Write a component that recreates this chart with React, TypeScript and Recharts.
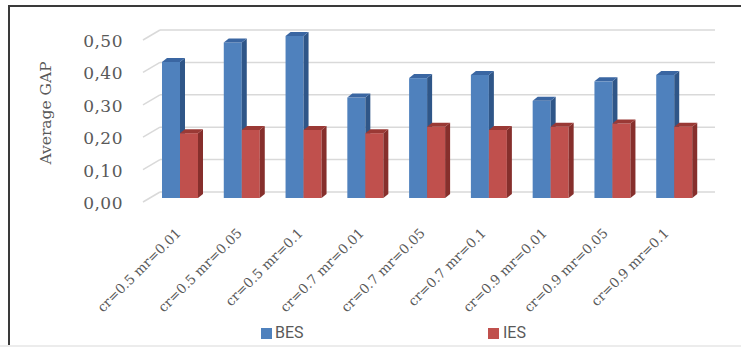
import { BarChart, Bar, XAxis, YAxis, CartesianGrid, Customized } from "recharts";

const categories = [
  "cr=0.5 mr=0.01",
  "cr=0.5 mr=0.05",
  "cr=0.5 mr=0.1",
  "cr=0.7 mr=0.01",
  "cr=0.7 mr=0.05",
  "cr=0.7 mr=0.1",
  "cr=0.9 mr=0.01",
  "cr=0.9 mr=0.05",
  "cr=0.9 mr=0.1",
];
const besValues = [0.42, 0.48, 0.5, 0.31, 0.37, 0.38, 0.3, 0.36, 0.38];
const iesValues = [0.2, 0.21, 0.21, 0.2, 0.22, 0.21, 0.22, 0.23, 0.22];
const yTicks = [0, 0.1, 0.2, 0.3, 0.4, 0.5];

const data = categories.map((name, i) => ({ name, BES: besValues[i], IES: iesValues[i] }));

const GRAY = "#595959";
const SERIF = "'DejaVu Serif', Georgia, serif";

// fake 3d box: front face + right side + top
const box = (front: string, side: string, top: string) => (props: any) => {
  const { x, y, width, height } = props;
  if (height == null || width == null) return null;
  const dx = 5;
  const dy = 4;
  return (
    <g>
      <rect x={x} y={y} width={width} height={height} fill={front} />
      <polygon
        points={`${x + width},${y} ${x + width + dx},${y - dy} ${x + width + dx},${y + height - dy} ${x + width},${y + height}`}
        fill={side}
      />
      <polygon
        points={`${x},${y} ${x + dx},${y - dy} ${x + width + dx},${y - dy} ${x + width},${y}`}
        fill={top}
      />
    </g>
  );
};

// back wall grid line with the slanted bit on the side wall
const gridLine = (props: any) => {
  const { x1, x2, y1 } = props;
  return (
    <g key={props.key}>
      <line x1={x1 - 6} y1={y1 + 4} x2={x1 + 11} y2={y1 - 6} stroke="#d9d9d9" strokeWidth={1.5} />
      <line x1={x1 + 11} y1={y1 - 6} x2={x2 + 10} y2={y1 - 6} stroke="#d9d9d9" strokeWidth={1.5} />
    </g>
  );
};

const YTick = (props: any) => {
  const { y, payload } = props;
  return (
    <text x={123} y={y + 11} textAnchor="end" fontFamily={SERIF} fontSize={17} fill={GRAY} letterSpacing={0.5}>
      {payload.value.toFixed(2).replace(".", ",")}
    </text>
  );
};

const XTick = (props: any) => {
  const { x, y, payload, index } = props;
  const ax = x + 2 - index * 0.8;
  const ay = y + 36;
  return (
    <text
      x={ax}
      y={ay}
      textAnchor="end"
      transform={`rotate(-45 ${ax} ${ay})`}
      fontFamily={SERIF}
      fontSize={13.5}
      fill={GRAY}
    >
      {payload.value}
    </text>
  );
};

export default function App() {
  return (
    <div style={{ position: "absolute", left: 0, top: 0, width: 741, height: 347, background: "#fff", overflow: "hidden" }}>
      <div
        style={{
          position: "absolute",
          left: 8,
          top: 5,
          width: 741,
          height: 347,
          borderTop: "2px solid #3a3a3a",
          borderLeft: "2px solid #3a3a3a",
        }}
      />
      <div style={{ position: "absolute", left: 0, top: 345, width: 741, height: 2, background: "#ececec" }} />
      <BarChart
        width={741}
        height={347}
        data={data}
        margin={{ top: 36, right: 36, left: 0, bottom: 0 }}
        barSize={18}
        barGap={0}
        style={{ position: "absolute", left: 0, top: 0 }}
      >
        <CartesianGrid vertical={false} horizontal={gridLine} />
        <XAxis
          dataKey="name"
          axisLine={false}
          tickLine={false}
          tickSize={0}
          tickMargin={0}
          height={149}
          interval={0}
          tick={<XTick />}
        />
        <YAxis
          domain={[0, 0.5]}
          ticks={yTicks}
          width={149}
          axisLine={false}
          tickLine={false}
          tick={<YTick />}
        />
        <Customized
          component={() => (
            <text
              transform="translate(51 113) rotate(-90)"
              textAnchor="middle"
              fontFamily={SERIF}
              fontSize={15.5}
              fill={GRAY}
            >
              Average GAP
            </text>
          )}
        />
        <Bar dataKey="BES" isAnimationActive={false} shape={box("#4f81bd", "#2f5688", "#3a66a2")} />
        <Bar dataKey="IES" isAnimationActive={false} shape={box("#c0504d", "#862f2c", "#9a3935")} />
      </BarChart>
      <div style={{ position: "absolute", left: 261, top: 328, width: 11, height: 11, background: "#4f81bd" }} />
      <div style={{ position: "absolute", left: 275, top: 324, fontFamily: "Roboto, sans-serif", fontSize: 16, lineHeight: "18px", color: GRAY }}>
        BES
      </div>
      <div style={{ position: "absolute", left: 488, top: 328, width: 11, height: 11, background: "#c0504d" }} />
      <div style={{ position: "absolute", left: 503, top: 324, fontFamily: "Roboto, sans-serif", fontSize: 16, lineHeight: "18px", color: GRAY }}>
        IES
      </div>
    </div>
  );
}
